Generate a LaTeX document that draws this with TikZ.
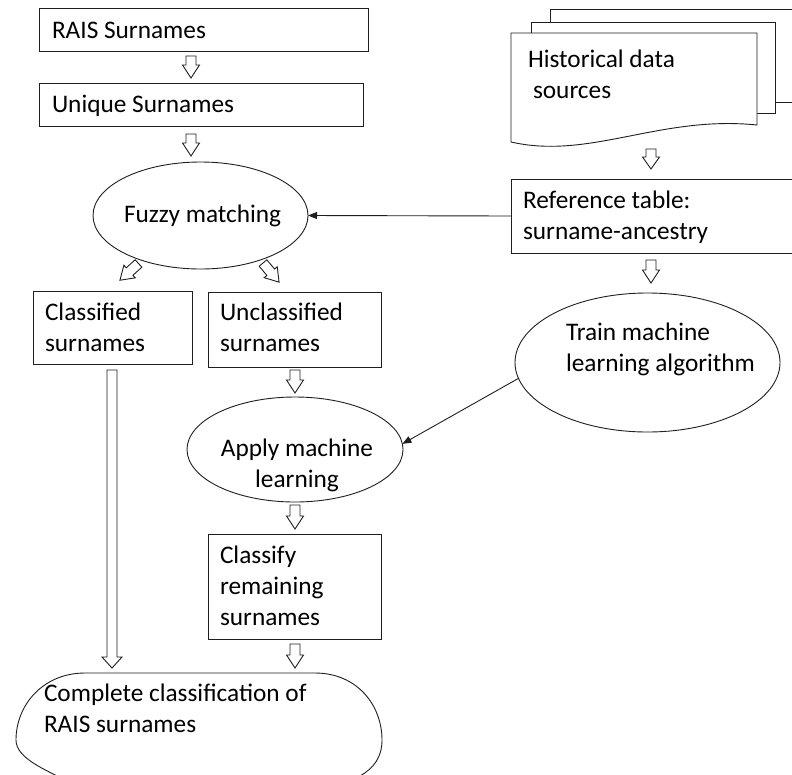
\documentclass[tikz,border=0pt]{standalone}
\usepackage{fontspec}
\setmainfont{Carlito}
\usetikzlibrary{shapes.geometric,arrows.meta}
\definecolor{ln}{gray}{0.12}
\begin{document}
\begin{tikzpicture}[x=1pt,y=-1pt,line width=0.9pt,
  box/.style={draw=ln,rectangle,inner sep=0,outer sep=0},
  oval/.style={draw=ln,ellipse,inner sep=0,outer sep=0},
  pics/blockarrow/.style n args={4}{code={
    \draw[ln,fill=white] (0,-#3) -- ({#1-#2},-#3) -- ({#1-#2},-#4) -- (#1,0)
      -- ({#1-#2},#4) -- ({#1-#2},#3) -- (0,#3) -- cycle;}},
  txt/.style={anchor=north west,inner sep=0,outer sep=0,align=left,
    font=\fontsize{25.3}{31}\selectfont},
  link/.style={draw=ln,-{Triangle[length=9pt,width=7pt]}}]
\useasboundingbox (0,0) rectangle (792,774);
\clip (0,0) rectangle (792,774);
\fill[white] (0,0) rectangle (792,774);

% boxes
\node[box,minimum width=329pt,minimum height=43pt] (rais) at (203.5,29.5) {};
\node[box,minimum width=324pt,minimum height=43pt] (unique) at (201,104.5) {};
\node[box,minimum width=159pt,minimum height=73pt] (classified) at (112.5,327.5) {};
\node[box,minimum width=173pt,minimum height=75pt] (unclassified) at (294.5,329.5) {};
\node[box,minimum width=173pt,minimum height=105pt] (classify) at (294.5,586.5) {};
\node[box,minimum width=290pt,minimum height=74pt] (ref) at (656,216) {};

% ellipses
\node[oval,minimum width=215pt,minimum height=107pt] (fuzzy) at (200.5,215.5) {};
\node[oval,minimum width=216pt,minimum height=105pt] (apply) at (295,449.5) {};
\node[oval,minimum width=265pt,minimum height=139pt] (train) at (647.5,362.5) {};

% terminator
\node[minimum width=366pt,minimum height=120pt,inner sep=0,outer sep=0] (complete) at (199,733) {};
\draw[ln] (85,673) -- (315,673)
  .. controls (357,673) and (382,705) .. (382,740)
  .. controls (382,757) and (374,768) .. (360,776)
  .. controls (340,790) and (320,795) .. (290,795) -- (110,795)
  .. controls (80,795) and (70,786) .. (57,776)
  .. controls (42,768) and (16,757) .. (16,740)
  .. controls (16,705) and (43,673) .. (85,673) -- cycle;

% document stack
\node[minimum width=246pt,minimum height=109pt,inner sep=0,outer sep=0] (docs) at (634,87.5) {};
\draw[ln] (550,22) -- (550,9) -- (800,9);
\draw[ln] (775,102) -- (800,102);
\draw[ln] (531,33) -- (531,22) -- (775,22) -- (775,113) -- (757,113);
\draw[ln,fill=white] (511,142) -- (511,33) -- (757,33) -- (757,125)
  .. controls (660,115) and (590,160) .. (511,142) -- cycle;

% block arrows
\pic[rotate=-90] (a1) at (191,56) {blockarrow={22}{13}{5}{8.5}};
\pic[rotate=-90] (a2) at (191,134) {blockarrow={22}{13}{5}{8.5}};
\pic[rotate=-138] (a3) at (138.5,263.5) {blockarrow={25}{13}{5}{8.5}};
\pic[rotate=-50] (a4) at (263,263) {blockarrow={25}{13}{5}{8.5}};
\pic[rotate=-90] (a5) at (651,149) {blockarrow={20}{12}{5}{8.5}};
\pic[rotate=-90] (a6) at (651,260) {blockarrow={23}{13}{5}{8.5}};
\pic[rotate=-90] (a7) at (295,370) {blockarrow={23}{13}{5}{8.5}};
\pic[rotate=-90] (a8) at (295,505) {blockarrow={24}{13}{5}{8.5}};
\pic[rotate=-90] (a9) at (295,644) {blockarrow={24}{13}{5}{8.5}};
\pic[rotate=-90] (a10) at (112,370) {blockarrow={298}{11}{5}{10}};

% thin connectors
\draw[link] (ref.west) -- (fuzzy.east);
\draw[link] (train.187) -- (apply.3);

% texts
\node[txt] (trais) at (52,16.3) {\strut RAIS Surnames};
\node[txt] (tunique) at (52,90.3) {\strut Unique Surnames};
\node[txt] (thist) at (528,45.3) {\strut Historical data\\\hspace*{5pt}\strut sources};
\node[txt] (tref) at (523,186.3) {\strut Reference table:\\\strut surname-ancestry};
\node[txt] (tfuzzy) at (124,200.3) {\strut Fuzzy matching};
\node[txt] (tclassified) at (45,298.3) {\strut Classified\\\strut surnames};
\node[txt] (tunclassified) at (220,298.3) {\strut Unclassified\\\strut surnames};
\node[txt] (ttrain) at (566,318.3) {\strut Train machine\\\strut learning algorithm};
\node[txt,anchor=north,align=center] (tapply) at (297,434.3) {\strut Apply machine\\\strut learning};
\node[txt] (tclassify) at (220,541.3) {\strut Classify\\\strut remaining\\\strut surnames};
\node[txt] (tcomplete) at (44,679.3) {\strut Complete classification of\\\strut RAIS surnames};
\end{tikzpicture}
\end{document}
